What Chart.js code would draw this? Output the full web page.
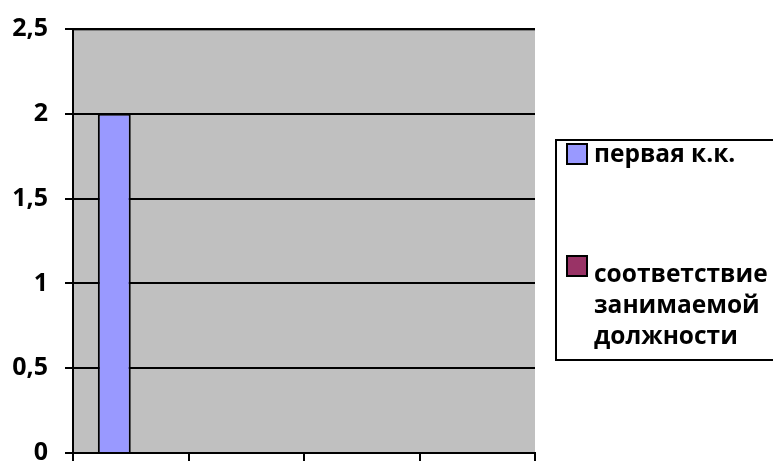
<!DOCTYPE html>
<html>
<head>
<meta charset="utf-8">
<script src="https://cdn.jsdelivr.net/npm/chart.js@4"></script>
<style>
  html, body { margin: 0; padding: 0; background: #fff; }
  #wrap { width: 773px; height: 461px; }
</style>
</head>
<body>
<div id="wrap"><canvas id="myChart" width="773" height="461"></canvas></div>
<script>
// data
var categories = ["", "", "", ""];
var seriesNames = ["первая к.к.", "соответствие занимаемой должности"];
var firstValues = [2, null, null, null];
var secondValues = [0, null, null, null];
var seriesColors = ["#9999ff", "#993366"];

var FONT = "'Open Sans', 'DejaVu Sans', sans-serif";

// gray plot background + darker top edge
var plotBg = {
	id: "plotBg",
	beforeDraw: function (chart) {
		var a = chart.chartArea, c = chart.ctx;
		c.save();
		c.fillStyle = "#c0c0c0";
		c.fillRect(a.left, a.top, a.right - a.left, a.bottom - a.top);
		c.fillStyle = "#808080";
		c.fillRect(a.left, a.top - 1, a.right - a.left, 3);
		c.restore();
	},
};

// boxed legend on the right, like the office chart
var boxLegend = {
	id: "boxLegend",
	afterDraw: function (chart) {
		var c = chart.ctx;
		c.save();
		c.strokeStyle = "#000";
		c.lineWidth = 2;
		c.strokeRect(556, 140, 240, 220);
		c.font = "bold 24.5px " + FONT;
		c.textBaseline = "alphabetic";
		var rows = [
			{ box: 143, y: 162, lines: ["первая к.к."] },
			{ box: 255, y: 282, lines: ["соответствие", "занимаемой", "должности"] },
		];
		chart.data.datasets.forEach(function (ds, i) {
			var r = rows[i];
			c.fillStyle = ds.backgroundColor;
			c.fillRect(567, r.box + 1, 20, 20);
			c.strokeStyle = "#000";
			c.lineWidth = 2;
			c.strokeRect(567, r.box + 1, 20, 20);
			c.fillStyle = "#000";
			r.lines.forEach(function (t, k) {
				c.fillText(t, 594, r.y + k * 31);
			});
		});
		c.restore();
	},
};

var ctx = document.getElementById("myChart").getContext("2d");
var myChart = new Chart(ctx, {
	type: "bar",
	data: {
		labels: categories,
		datasets: [
			{
				label: seriesNames[0],
				data: firstValues,
				backgroundColor: seriesColors[0],
				borderColor: "#000",
				borderWidth: 2,
				borderSkipped: "bottom",
			},
			{
				label: seriesNames[1],
				data: secondValues,
				backgroundColor: seriesColors[1],
				borderColor: "#000",
				borderWidth: 0,
			},
		],
	},
	options: {
		responsive: false,
		animation: false,
		events: [],
		layout: { padding: { top: 29, right: 238, left: 0, bottom: 0 } },
		datasets: { bar: { categoryPercentage: 0.57, barPercentage: 1 } },
		plugins: {
			legend: { display: false },
			tooltip: { enabled: false },
		},
		scales: {
			x: {
				afterFit: function (s) { s.height = 8; },
				grid: {
					offset: true,
					drawOnChartArea: false,
					tickLength: 8,
					color: "#000",
					lineWidth: 2,
				},
				border: { color: "#000", width: 2 },
				ticks: { display: false },
			},
			y: {
				min: 0,
				max: 2.5,
				afterFit: function (s) {
					s.width = 73;
					s.paddingTop = 0;
					s.paddingBottom = 0;
				},
				ticks: {
					stepSize: 0.5,
					padding: 17,
					color: "#000",
					font: { family: FONT, size: 25, weight: "bold" },
					callback: function (v) { return String(v).replace(".", ","); },
				},
				grid: { color: "#000", lineWidth: 2, tickLength: 8 },
				border: { color: "#000", width: 2 },
			},
		},
	},
	plugins: [plotBg, boxLegend],
});
</script>
</body>
</html>
